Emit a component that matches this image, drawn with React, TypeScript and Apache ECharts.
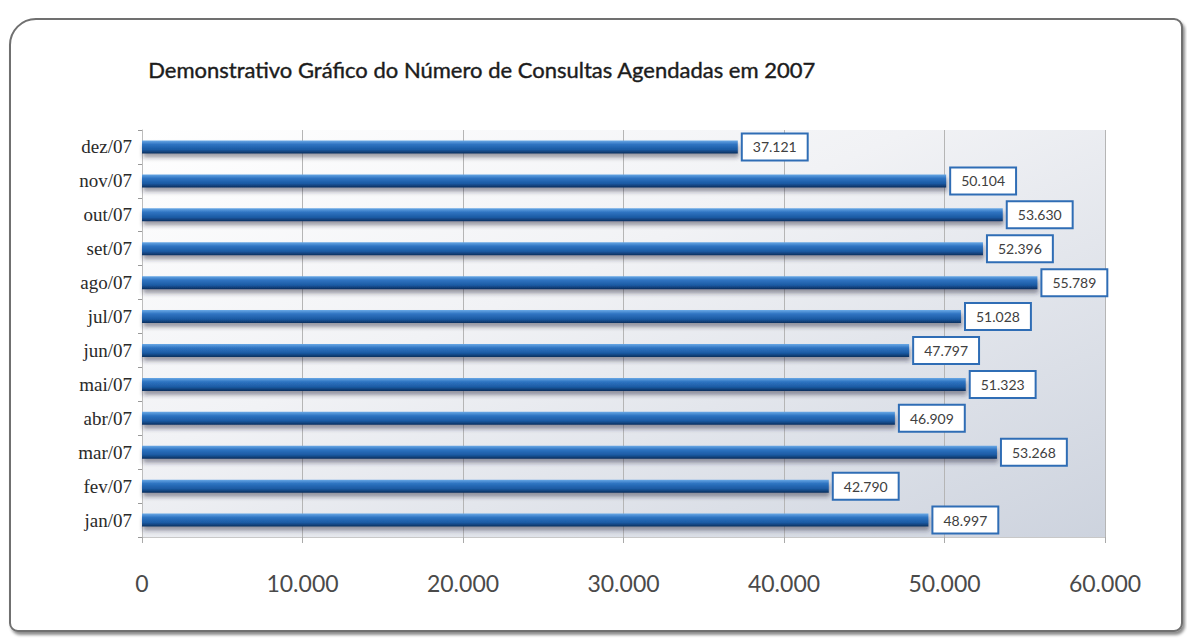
import React, { useEffect, useRef } from "react";
import * as echarts from "echarts";

const titleText = "Demonstrativo Gráfico do Número de Consultas Agendadas em 2007";
const categories = ["jan/07", "fev/07", "mar/07", "abr/07", "mai/07", "jun/07", "jul/07", "ago/07", "set/07", "out/07", "nov/07", "dez/07"];
const consultas = [48997, 42790, 53268, 46909, 51323, 47797, 51028, 55789, 52396, 53630, 50104, 37121];
const axisMin = 0;
const axisMax = 60000;
const axisStep = 10000;

const fmt = (v: number) => {
  const s = Math.round(v).toString();
  return s.replace(/\B(?=(\d{3})+(?!\d))/g, ".");
};

export default function App() {
  const ref = useRef<HTMLDivElement>(null);
  useEffect(() => {
    if (!ref.current) return;
    const chart = echarts.init(ref.current, undefined, { renderer: "svg" });
    chart.setOption({
      animation: false,
      backgroundColor: "#ffffff",
      graphic: [
        {
          type: "rect",
          shape: { x: 10, y: 19, width: 1172, height: 612, r: [26, 8, 8, 8] },
          style: {
            fill: "#ffffff",
            stroke: "#6f6f6f",
            lineWidth: 2,
            shadowColor: "rgba(0,0,0,0.45)",
            shadowBlur: 3,
            shadowOffsetX: 2,
            shadowOffsetY: 3,
          },
          z: -10,
        },
        {
          type: "text",
          left: 148,
          top: 58,
          style: {
            text: titleText,
            fill: "#1c1c1c",
            font: "normal 22px Lato",
            stroke: "#1c1c1c",
            lineWidth: 0.4,
          },
        },
      ],
      grid: {
        left: 142,
        right: 82,
        top: 130,
        bottom: 104,
        show: true,
        borderWidth: 0,
        backgroundColor: new echarts.graphic.LinearGradient(0, 0, 1, 1, [
          { offset: 0, color: "#ffffff" },
          { offset: 0.4, color: "#f1f2f5" },
          { offset: 1, color: "#cdd3de" },
        ]),
      },
      xAxis: {
        type: "value",
        min: axisMin,
        max: axisMax,
        interval: axisStep,
        axisLine: { show: true, lineStyle: { color: "#c8c8c8" } },
        axisTick: { show: true, length: 6, lineStyle: { color: "#aaaaaa" } },
        splitLine: { show: true, lineStyle: { color: "#b5b5b5", width: 1 } },
        axisLabel: {
          formatter: (v: number) => fmt(v),
          color: "#4a4a4a",
          fontFamily: "Lato",
          fontSize: 23,
          margin: 34,
        },
      },
      yAxis: {
        type: "category",
        data: categories,
        axisLine: { show: true, lineStyle: { color: "#bdbdbd" } },
        axisTick: { show: true, length: 4, lineStyle: { color: "#999999" } },
        axisLabel: {
          color: "#2a2a2a",
          fontFamily: "Liberation Serif",
          fontSize: 19,
          margin: 10,
        },
      },
      series: [
        {
          type: "bar",
          data: consultas,
          barWidth: 13,
          itemStyle: {
            color: new echarts.graphic.LinearGradient(0, 0, 0, 1, [
              { offset: 0, color: "#6aa9e6" },
              { offset: 0.3, color: "#2f74c2" },
              { offset: 0.7, color: "#1b5aa3" },
              { offset: 1, color: "#0b2f5e" },
            ]),
            shadowColor: "rgba(40,40,60,0.45)",
            shadowBlur: 4,
            shadowOffsetY: 4,
            shadowOffsetX: 1,
          },
          label: {
            show: true,
            position: "right",
            distance: 5,
            formatter: (p: any) => fmt(p.value),
            color: "#404040",
            fontFamily: "Lato",
            fontSize: 14,
            backgroundColor: "#ffffff",
            borderColor: "#2f6db5",
            borderWidth: 2,
            padding: [6, 10, 5, 10],
          },
        },
      ],
    });
    return () => chart.dispose();
  }, []);
  return <div ref={ref} style={{ position: "absolute", left: 0, top: 0, width: 1187, height: 641 }} />;
}
